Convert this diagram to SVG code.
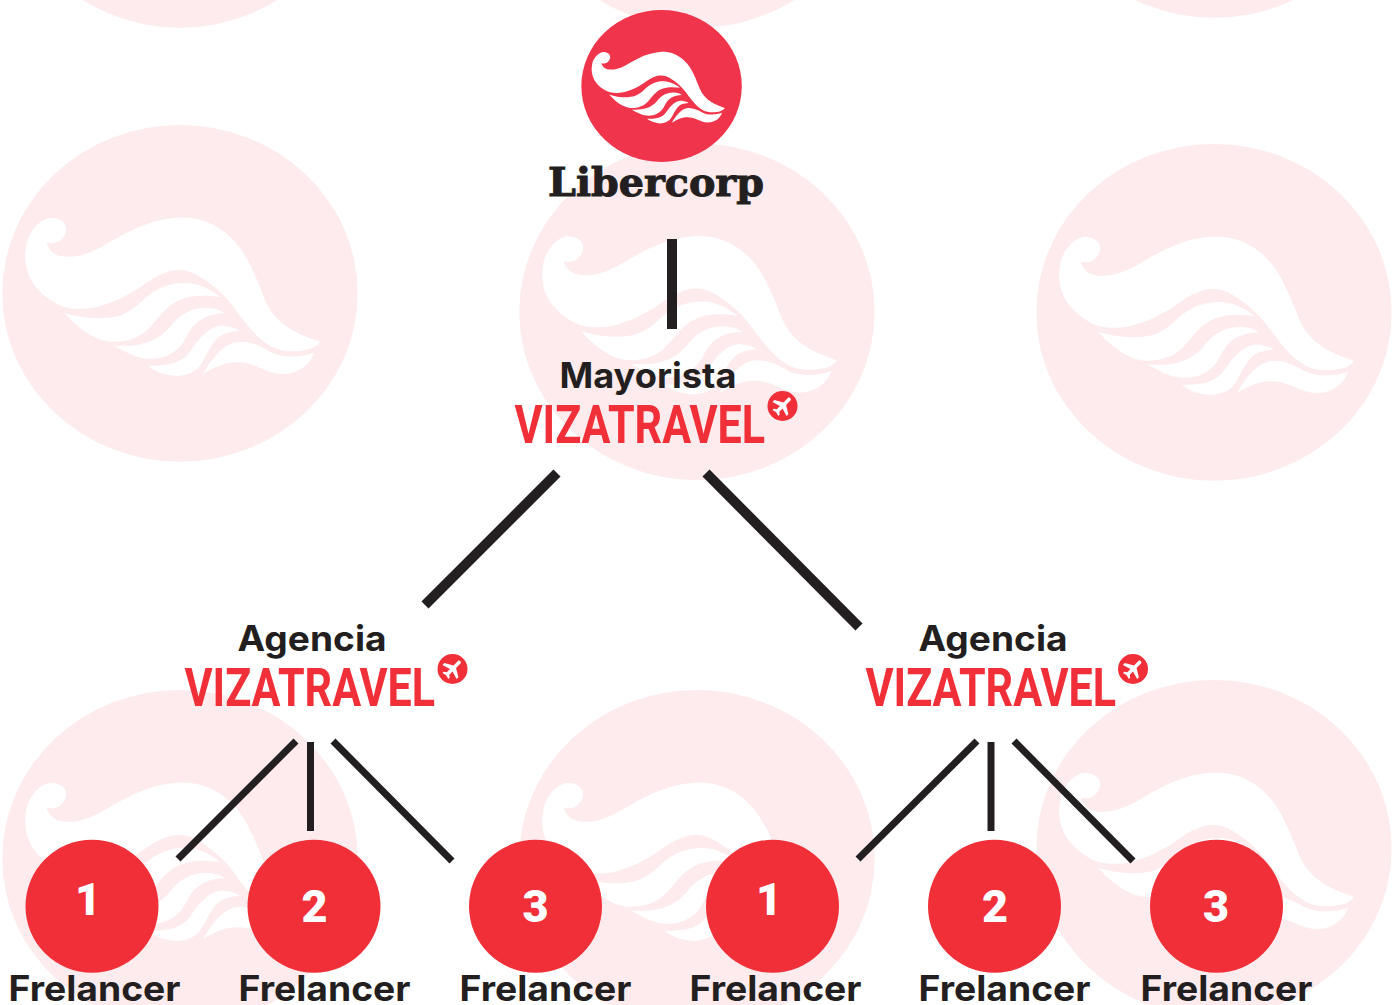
<svg xmlns="http://www.w3.org/2000/svg" width="1398" height="1005" viewBox="0 0 1398 1005">
<style>
.wm{color:#fdebed}
.cl{fill:none;stroke:#231f20;stroke-width:7}
.ct{stroke-width:10}
.num{fill:#f12f38}
.n{font-family:"Roboto",sans-serif;font-weight:900;font-size:45px;fill:#fff;text-anchor:middle}
.lab{font-family:"Inter","Noto Sans",sans-serif;font-weight:700;fill:#231f20;font-size:35px}
.viza{font-family:"Roboto",sans-serif;font-weight:700;fill:#f12f38;font-size:54px}
</style>
<defs>
<g id="logo">
<ellipse cx="540" cy="520" rx="533" ry="505" fill="currentColor"/>
<g fill="#fff">
<path d="M140,368C155,372 175,372 190,352C210,325 195,295 155,293C125,293 85,330 78,380C65,450 100,510 160,545C230,590 340,560 430,495C480,460 520,440 570,455C620,475 670,520 700,560C740,615 775,660 815,680C860,705 945,695 960,665C900,645 830,620 795,540C770,480 745,400 690,350C640,305 590,290 530,293C460,298 400,325 340,360C290,390 250,412 200,410C170,410 148,395 140,368Z"/>
<path d="M192,578C260,598 320,600 365,585C395,572 415,555 435,535C480,495 530,485 570,490C610,495 640,515 662,532C620,525 575,525 540,540C500,555 480,590 450,622C420,655 375,668 330,665C280,660 230,620 192,578Z"/>
<path d="M342,677C400,680 465,675 510,620C540,580 580,562 620,563C645,565 665,570 675,580C620,582 585,600 560,650C535,700 490,720 440,716C410,714 375,695 342,677Z"/>
<path d="M443,738C500,735 545,738 580,680C610,640 640,615 670,617C690,618 705,623 720,632C685,635 660,640 640,670C625,690 615,715 603,733C590,755 560,768 530,768C495,766 465,755 443,738Z"/>
<path d="M608,763C635,715 675,665 720,665C755,665 785,680 810,695C850,715 900,712 942,698C930,735 895,762 845,762C800,762 770,727 710,727C670,727 640,745 608,763Z"/>
</g>
</g>
<g id="plane">
<circle r="15" fill="#f12f38"/>
<path transform="rotate(45)" fill="#fff" d="M-1.800,-9.500C-1.800,-11.500 1.800,-11.500 1.800,-9.500L1.800,-3.200L10,1.600L10,4.200L1.800,1.800L1.800,6.300L4.200,8.200L4.200,10L0,9L-4.200,10L-4.200,8.200L-1.800,6.300L-1.800,1.800L-10,4.200L-10,1.600L-1.800,-3.200Z"/>
</g>
</defs>
<rect width="1398" height="1005" fill="#fff"/>
<g id="watermarks" class="wm">
<use href="#logo" transform="translate(0,-314) scale(.3333)"/>
<use href="#logo" transform="translate(517,-314) scale(.3333)"/>
<use href="#logo" transform="translate(1034,-324) scale(.3333)"/>
<use href="#logo" transform="translate(0,120) scale(.3333)"/>
<use href="#logo" transform="translate(517,138.500) scale(.3333)"/>
<use href="#logo" transform="translate(1034,139) scale(.3333)"/>
<use href="#logo" transform="translate(0,685) scale(.3333)"/>
<use href="#logo" transform="translate(517,685) scale(.3333)"/>
<use href="#logo" transform="translate(1034,675) scale(.3333)"/>
</g>
<g id="connectors">
<path class="cl ct" d="M672,239V329"/>
<path class="cl ct" d="M557,473L425,605"/>
<path class="cl ct" d="M706,473L859,627"/>
<path class="cl" d="M296,741L178,859"/>
<path class="cl" d="M310.500,742V831"/>
<path class="cl" d="M333,741L452,861"/>
<path class="cl" d="M977,741L858,859"/>
<path class="cl" d="M991,742V831"/>
<path class="cl" d="M1014,741L1133,861"/>
</g>
<g id="libercorp">
<use href="#logo" style="color:#f0344b" transform="translate(580.300,7.800) scale(.1505)"/>
<text x="548" y="196" font-family="'DejaVu Serif',serif" font-weight="700" font-size="39" fill="#231f20" stroke="#231f20" stroke-width="1" textLength="216" lengthAdjust="spacingAndGlyphs">Libercorp</text>
</g>
<g id="mayorista">
<text class="lab" x="559.500" y="388" textLength="177" lengthAdjust="spacingAndGlyphs">Mayorista</text>
<text class="viza" x="514.500" y="443" textLength="250.500" lengthAdjust="spacingAndGlyphs">VIZATRAVEL</text>
<use href="#plane" x="782.500" y="406"/>
</g>
<g id="agencia-1">
<text class="lab" x="237.500" y="651" textLength="149" lengthAdjust="spacingAndGlyphs">Agencia</text>
<text class="viza" x="184.500" y="706" textLength="250.500" lengthAdjust="spacingAndGlyphs">VIZATRAVEL</text>
<use href="#plane" x="452.500" y="669"/>
</g>
<g id="agencia-2">
<text class="lab" x="918.500" y="651" textLength="149" lengthAdjust="spacingAndGlyphs">Agencia</text>
<text class="viza" x="865.500" y="706" textLength="250.500" lengthAdjust="spacingAndGlyphs">VIZATRAVEL</text>
<use href="#plane" x="1133" y="669"/>
</g>
<g id="f1a"><circle class="num" cx="92" cy="906.300" r="66.500"/><text class="n" x="88" y="915">1</text><text class="lab" x="8.500" y="1001" textLength="172" lengthAdjust="spacingAndGlyphs">Frelancer</text></g>
<g id="f2a"><circle class="num" cx="314" cy="906.300" r="66.500"/><text class="n" x="314.500" y="922">2</text><text class="lab" x="238.500" y="1001" textLength="172" lengthAdjust="spacingAndGlyphs">Frelancer</text></g>
<g id="f3a"><circle class="num" cx="535.500" cy="906.300" r="66.500"/><text class="n" x="535.500" y="922">3</text><text class="lab" x="459.500" y="1001" textLength="172" lengthAdjust="spacingAndGlyphs">Frelancer</text></g>
<g id="f1b"><circle class="num" cx="772.500" cy="906.300" r="66.500"/><text class="n" x="769" y="915">1</text><text class="lab" x="689.500" y="1001" textLength="172" lengthAdjust="spacingAndGlyphs">Frelancer</text></g>
<g id="f2b"><circle class="num" cx="994.500" cy="906.300" r="66.500"/><text class="n" x="995" y="922">2</text><text class="lab" x="918.500" y="1001" textLength="172" lengthAdjust="spacingAndGlyphs">Frelancer</text></g>
<g id="f3b"><circle class="num" cx="1216.500" cy="906.300" r="66.500"/><text class="n" x="1216" y="922">3</text><text class="lab" x="1140.500" y="1001" textLength="172" lengthAdjust="spacingAndGlyphs">Frelancer</text></g>
</svg>
